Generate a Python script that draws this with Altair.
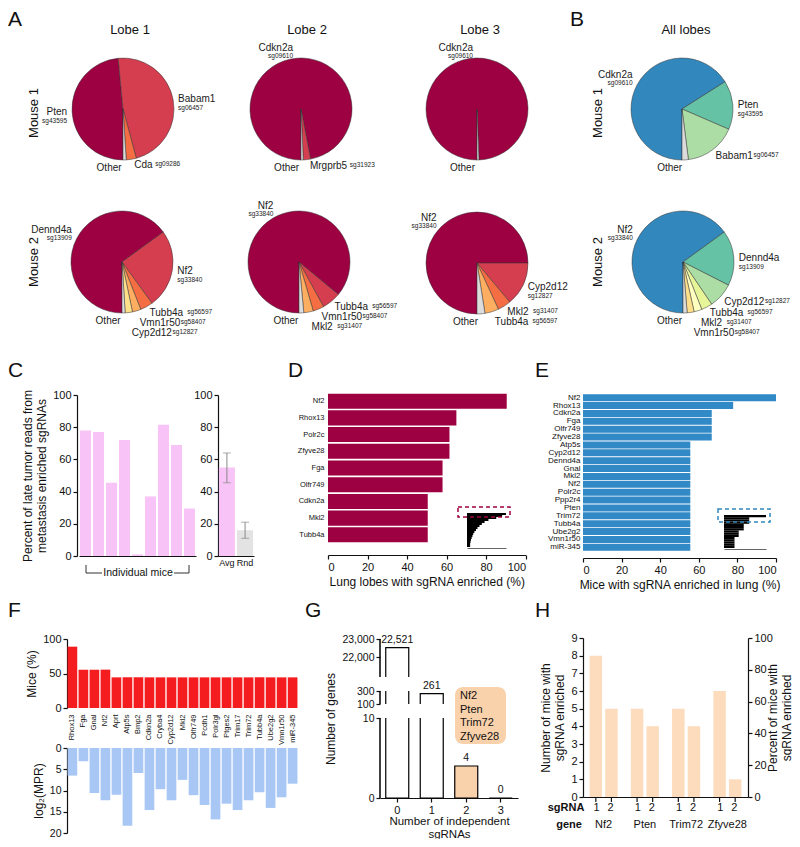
import math
import altair as alt
import pandas as pd

FONT = "Liberation Sans"
OX, OY = 8, 8
W, H = 784, 831


def X(v):
    return v - OX


def Y(v):
    return v - OY


# ======================= DATA =======================
# Panel A (per lobe) / B (all lobes): gene, sgRNA id, share of reads (%)
a_m1_l1_gene = ["Pten", "Babam1", "Cda", "Other"]
a_m1_l1_sg = ["sg43595", "sg06457", "sg09286", ""]
a_m1_l1_pct = [48.5, 47.3, 3.2, 1.0]

a_m1_l2_gene = ["Cdkn2a", "Mrgprb5", "Other"]
a_m1_l2_sg = ["sg09610", "sg31923", ""]
a_m1_l2_pct = [97.0, 2.3, 0.7]

a_m1_l3_gene = ["Cdkn2a", "Other"]
a_m1_l3_sg = ["sg09610", ""]
a_m1_l3_pct = [99.4, 0.6]

a_m2_l1_gene = ["Dennd4a", "Nf2", "Tubb4a", "Vmn1r50", "Cyp2d12", "Other"]
a_m2_l1_sg = ["sg13909", "sg33840", "sg56597", "sg58407", "sg12827", ""]
a_m2_l1_pct = [65.0, 25.0, 4.0, 2.7, 2.3, 1.0]

a_m2_l2_gene = ["Nf2", "Tubb4a", "Vmn1r50", "Mkl2", "Other"]
a_m2_l2_sg = ["sg33840", "sg56597", "sg58407", "sg31407", ""]
a_m2_l2_pct = [86.0, 6.0, 3.5, 3.0, 1.5]

a_m2_l3_gene = ["Nf2", "Cyp2d12", "Mkl2", "Tubb4a", "Other"]
a_m2_l3_sg = ["sg33840", "sg12827", "sg31407", "sg56597", ""]
a_m2_l3_pct = [75.0, 13.9, 4.2, 4.4, 2.5]

b_m1_gene = ["Cdkn2a", "Pten", "Babam1", "Other"]
b_m1_sg = ["sg09610", "sg43595", "sg06457", ""]
b_m1_pct = [66.0, 15.5, 16.5, 2.0]

b_m2_gene = ["Nf2", "Dennd4a", "Cyp2d12", "Tubb4a", "Mkl2", "Vmn1r50", "Other"]
b_m2_sg = ["sg33840", "sg13909", "sg12827", "sg56597", "sg31407", "sg58407", ""]
b_m2_pct = [65.0, 17.5, 8.0, 3.5, 2.5, 2.2, 1.3]

lobe_titles = ["Lobe 1", "Lobe 2", "Lobe 3", "All lobes"]
mouse_titles = ["Mouse 1", "Mouse 2"]

# Panel C
c_mouse = ["1", "2", "3", "4", "5", "6", "7", "8", "9"]
c_pct = [78, 77, 45.5, 72, 1, 37, 81.5, 69, 29.5]
c_ytitle = ["Percent of late tumor reads from", "metastasis enriched sgRNAs"]
c2_group = ["Avg", "Rnd"]
c2_mean = [55, 16]
c2_lo = [45.5, 11]
c2_hi = [64, 21]

# Panel D
d_genes = ["Nf2", "Rhox13", "Polr2c", "Zfyve28", "Fga", "Olfr749", "Cdkn2a", "Mkl2", "Tubb4a"]
d_pct = [90.5, 65, 61.5, 61.5, 58, 58, 50.5, 50.5, 50.5]
d_xtitle = "Lung lobes with sgRNA enriched (%)"
d_inset = [1.0, 0.9, 0.75, 0.55, 0.45, 0.38, 0.32, 0.27, 0.23, 0.19, 0.16, 0.14, 0.12, 0.1, 0.09, 0.08, 0.08]

# Panel E
e_genes = ["Nf2", "Rhox13", "Cdkn2a", "Fga", "Olfr749", "Zfyve28", "Atp5s", "Cyp2d12", "Dennd4a",
           "Gnal", "Mkl2", "Nf2", "Polr2c", "Ppp2r4", "Pten", "Trim72", "Tubb4a", "Ube2g2",
           "Vmn1r50", "miR-345"]
e_pct = [100, 77.8, 66.7, 66.7, 66.7, 66.7, 55.6, 55.6, 55.6, 55.6, 55.6, 55.6, 55.6, 55.6,
         55.6, 55.6, 55.6, 55.6, 55.6, 55.6]
e_xtitle = "Mice with sgRNA enriched in lung (%)"
e_inset = [1.0, 0.6, 0.6, 0.6, 0.47, 0.47, 0.47, 0.35, 0.35, 0.35, 0.25, 0.25, 0.25, 0.25, 0.25]

# Panel F
f_genes = ["Rhox13", "Fga", "Gnal", "Nf2", "Aprt", "Atp5s", "Bmp2", "Cdkn2a", "Cryba4", "Cyp2d12",
           "Mkl2", "Olfr749", "Pcdh1", "Polr3gl", "Ptges2", "Trim17", "Trim72", "Tubb4a", "Ube2g2",
           "Vmn1r50", "miR-345"]
f_mice = [88.9, 55.6, 55.6, 55.6, 44.4, 44.4, 44.4, 44.4, 44.4, 44.4, 44.4, 44.4, 44.4, 44.4,
          44.4, 44.4, 44.4, 44.4, 44.4, 44.4, 44.4]
f_mpr = [6.5, 3.1, 10.6, 12.3, 11.0, 18.3, 5.9, 14.6, 9.7, 12.3, 7.5, 11.1, 13.4, 16.8, 13.1,
         14.6, 12.3, 10.4, 14.1, 11.6, 8.4]

# Panel G
g_cat = ["0", "1", "2", "3"]
g_genes = [22521, 261, 4, 0]
g_box_genes = ["Nf2", "Pten", "Trim72", "Zfyve28"]
g_axis_lo = [0, 100, 20900]
g_axis_hi = [10, 300, 23000]

# Panel H
h_genes = ["Nf2", "Pten", "Trim72", "Zfyve28"]
h_sg = ["1", "2"]
h_count = [8, 5, 5, 4, 5, 4, 6, 1]
h_total_mice = 9

# ======================= STYLE =======================
RED_PAL = ["#9E0142", "#D53E4F", "#F46D43", "#FDAE61", "#FEE08B"]
BLUE_PAL = ["#3288BD", "#66C2A5", "#ABDDA4", "#E6F598", "#FFFFBF", "#FEE08B"]
OTHER_COL = "#DCDCDC"
PINK = "#F8C3F6"
GRAYBAR = "#E3E3E3"
CRIMSON = "#9E0142"
BLUE_E = "#3189C5"
RED_F = "#F41C1E"
LBLUE_F = "#A8C7F4"
PEACH = "#FCDCBC"
PEACH_BOX = "#F9D2AC"
INK = "#111111"


def axis(**kw):
    base = dict(labelFont=FONT, titleFont=FONT, labelColor=INK, titleColor=INK,
                domainColor=INK, tickColor=INK, grid=False, titleFontWeight="normal",
                labelFontSize=10.5, titleFontSize=12, tickSize=4, domainWidth=1.2,
                tickWidth=1.2, labelPadding=2, titlePadding=4)
    base.update(kw)
    return alt.Axis(**base)


ONE = pd.DataFrame({"k": [0]})


def txt(s, x, y, size=12, weight="normal", align="left", baseline="middle", angle=0):
    return alt.Chart(pd.DataFrame({"t": [s]})).mark_text(
        font=FONT, fontSize=size, fontWeight=weight, align=align, baseline=baseline,
        angle=angle, color=INK).encode(text="t:N", x=alt.value(X(x)), y=alt.value(Y(y)))


def tw(s, fs):
    w = 0.0
    for ch in s:
        if ch in "iljtfrI1|.,:;!' ":
            w += 0.3
        elif ch in "mwMW":
            w += 0.85
        elif ch.isupper():
            w += 0.67
        else:
            w += 0.56
    return w * fs


THETA = alt.Scale(domain=[0, 100], range=[math.pi, 3 * math.pi])


def pie(genes, sgs, pcts, palette, cx, cy):
    R = 51
    cols, k = [], 0
    for g in genes:
        if g == "Other":
            cols.append(OTHER_COL)
        else:
            cols.append(palette[k])
            k += 1
    df = pd.DataFrame({"gene": genes, "pct": pcts, "idx": list(range(len(genes))), "col": cols})
    layers = [alt.Chart(df).mark_arc(outerRadius=R, stroke="#333333", strokeWidth=0.5).encode(
        theta=alt.Theta("pct:Q", stack=True, scale=THETA),
        order=alt.Order("idx:Q"),
        color=alt.Color("col:N", scale=None),
        x=alt.value(X(cx)), y=alt.value(Y(cy)))]

    def lab(t, m, fs, dx, dy, align):
        d = pd.DataFrame({"t": [t], "m": [m]})
        return alt.Chart(d).mark_text(
            radius=R, dx=dx, dy=dy, align=align, baseline="middle", fontSize=fs,
            font=FONT, color="#1a1a1a").encode(
            theta=alt.Theta("m:Q", stack=False, scale=THETA), text=alt.Text("t:N"),
            x=alt.value(X(cx)), y=alt.value(Y(cy)))

    cum = 0.0
    stair = []
    for g, s, p in zip(genes, sgs, pcts):
        m = cum + p / 2
        cum += p
        a = (180 + m * 3.6) % 360
        sa, ca = math.sin(math.radians(a)), math.cos(math.radians(a))
        ex, ey = R * sa, -R * ca
        if g == "Other":
            layers.append(lab(g, m, 10, -3, 8, "right"))
        elif 120 <= a < 176:
            stair.append((a, g, s, m, ex, ey))
        else:
            al = "left" if sa >= 0 else "right"
            side = 1 if sa >= 0 else -1
            if ca > 0.4:
                bx, by = 2 * sa + 3 * side, -2 * ca
                layers.append(lab(g, m, 10, bx, by - 8, al))
                layers.append(lab(s, m, 6.5, bx, by, al))
            else:
                bx, by = 5 * sa, -5 * ca
                layers.append(lab(g, m, 10, bx, by, al))
                layers.append(lab(s, m, 6.5, bx, by + 9, al))
    prev = None
    for a, g, s, m, ex, ey in sorted(stair):
        ty = ey + 6 if prev is None else max(ey + 6, prev + 10)
        prev = ty
        layers.append(lab(g, m, 10, 3, ty - ey, "left"))
        if s:
            layers.append(lab(s, m, 6.5, 3 + tw(g, 10) + 3, ty - ey - 1, "left"))
    return alt.layer(*layers)


layers = []

# ----- panel letters -----
for letter, lx, ly in [("A", 8, 26), ("B", 570, 26), ("C", 8, 377), ("D", 288, 377),
                       ("E", 535, 377), ("F", 8, 617), ("G", 305, 617), ("H", 535, 617)]:
    layers.append(txt(letter, lx, ly, size=21, baseline="alphabetic"))

# ----- panel A/B titles -----
for t, tx in zip(lobe_titles, [130, 307, 480, 686]):
    layers.append(txt(t, tx, 30, size=13, align="center"))
for t, ty in zip(mouse_titles, [113, 262]):
    layers.append(txt(t, 34, ty, size=13, align="center", angle=270))
    layers.append(txt(t, 598, ty, size=13, align="center", angle=270))

# ----- pies -----
layers.append(pie(a_m1_l1_gene, a_m1_l1_sg, a_m1_l1_pct, RED_PAL, 123, 109))
layers.append(pie(a_m1_l2_gene, a_m1_l2_sg, a_m1_l2_pct, RED_PAL, 301, 109))
layers.append(pie(a_m1_l3_gene, a_m1_l3_sg, a_m1_l3_pct, RED_PAL, 477, 109))
layers.append(pie(b_m1_gene, b_m1_sg, b_m1_pct, BLUE_PAL, 682, 109))
layers.append(pie(a_m2_l1_gene, a_m2_l1_sg, a_m2_l1_pct, RED_PAL, 122, 262))
layers.append(pie(a_m2_l2_gene, a_m2_l2_sg, a_m2_l2_pct, RED_PAL, 299, 262))
layers.append(pie(a_m2_l3_gene, a_m2_l3_sg, a_m2_l3_pct, RED_PAL, 477, 263))
layers.append(pie(b_m2_gene, b_m2_sg, b_m2_pct, BLUE_PAL, 683, 262))

# ----- panel C (left) -----
dfC = pd.DataFrame({"m": c_mouse, "v": c_pct})
layers.append(alt.Chart(dfC).mark_bar(color=PINK).encode(
    x=alt.X("m:N", sort=c_mouse,
            scale=alt.Scale(domain=c_mouse, range=[X(79), X(196)], paddingInner=0.15, paddingOuter=0.08),
            axis=axis(orient="bottom", offset=Y(556) - H, labels=False, ticks=False, title=None)),
    y=alt.Y("v:Q", scale=alt.Scale(domain=[0, 100], range=[Y(556), Y(395)]),
            axis=axis(orient="left", offset=-X(77), values=[0, 20, 40, 60, 80, 100],
                      title=c_ytitle, labelFontSize=11))))
# bracket "Individual mice"
for (x1, x2, y1, y2) in [(86, 86, 565, 573), (189, 189, 565, 573), (86, 102, 573, 573), (174, 189, 573, 573)]:
    layers.append(alt.Chart(ONE).mark_rule(color="#333333", strokeWidth=1).encode(
        x=alt.value(X(x1)), x2=alt.value(X(x2)), y=alt.value(Y(y1)), y2=alt.value(Y(y2))))
layers.append(txt("Individual mice", 138, 573, size=10.5, align="center"))

# ----- panel C (right) -----
dfC2 = pd.DataFrame({"g": c2_group, "v": c2_mean, "lo": c2_lo, "hi": c2_hi, "col": [PINK, GRAYBAR]})


def xC2(ax=None):
    return alt.X("g:N", sort=c2_group,
                 scale=alt.Scale(domain=c2_group, range=[X(218), X(254)], paddingInner=0.12, paddingOuter=0.05),
                 axis=ax)


def yC2(field, ax=None):
    return alt.Y(field, scale=alt.Scale(domain=[0, 100], range=[Y(556), Y(395)]), axis=ax)


layers.append(alt.Chart(dfC2).mark_bar().encode(
    x=xC2(axis(orient="bottom", offset=Y(556) - H, ticks=False, title=None, labelAngle=0, labelFontSize=9)),
    y=yC2("v:Q", axis(orient="left", offset=-X(218), values=[0, 20, 40, 60, 80, 100], title=None,
                       labelFontSize=11)),
    color=alt.Color("col:N", scale=None)))
layers.append(alt.Chart(dfC2).mark_rule(color="#8a8a8a", strokeWidth=1).encode(
    x=xC2(), y=yC2("lo:Q"), y2="hi:Q"))
layers.append(alt.Chart(dfC2).mark_tick(color="#8a8a8a", size=8, thickness=1).encode(x=xC2(), y=yC2("lo:Q")))
layers.append(alt.Chart(dfC2).mark_tick(color="#8a8a8a", size=8, thickness=1).encode(x=xC2(), y=yC2("hi:Q")))

# ----- panel D -----
dfD = pd.DataFrame({"g": d_genes, "v": d_pct})
layers.append(alt.Chart(dfD).mark_bar(color=CRIMSON).encode(
    y=alt.Y("g:N", sort=d_genes,
            scale=alt.Scale(range=[Y(393), Y(543)], paddingInner=0.1, paddingOuter=0.04),
            axis=axis(orient="left", offset=-X(328), domain=False, ticks=False,
                      labelFontSize=7.5, labelPadding=4, title=None)),
    x=alt.X("v:Q", scale=alt.Scale(domain=[0, 100], range=[X(328), X(525.5)]),
            axis=axis(orient="bottom", offset=Y(555) - H, values=[0, 20, 40, 60, 80, 100],
                      title=d_xtitle, labelFontSize=11))))
dfDi = pd.DataFrame({"r": list(range(len(d_inset))), "w": d_inset})
layers.append(alt.Chart(dfDi).mark_bar(color="black").encode(
    y=alt.Y("r:O", scale=alt.Scale(range=[Y(513), Y(547)], paddingInner=0, paddingOuter=0), axis=None),
    x=alt.X("w:Q", scale=alt.Scale(domain=[0, 1], range=[X(467), X(506)]),
            axis=axis(orient="bottom", offset=Y(548) - H, labels=False, ticks=False, title=None,
                      domainColor="#666666", domainWidth=1))))
layers.append(alt.Chart(ONE).mark_rect(fillOpacity=0, stroke=CRIMSON, strokeDash=[4, 3], strokeWidth=1.5).encode(
    x=alt.value(X(458)), x2=alt.value(X(510)), y=alt.value(Y(507)), y2=alt.value(Y(517))))

# ----- panel E -----
e_idx = list(range(len(e_genes)))
e_expr = "[" + ",".join("'" + g + "'" for g in e_genes) + "][datum.value]"
dfE = pd.DataFrame({"i": e_idx, "v": e_pct})
layers.append(alt.Chart(dfE).mark_bar(color=BLUE_E).encode(
    y=alt.Y("i:O", sort=e_idx,
            scale=alt.Scale(range=[Y(394), Y(551)], paddingInner=0.12, paddingOuter=0.03),
            axis=axis(orient="left", offset=-X(583), domain=False, ticks=False,
                      labelFontSize=8, labelPadding=3, title=None, labelExpr=e_expr)),
    x=alt.X("v:Q", scale=alt.Scale(domain=[0, 100], range=[X(583), X(776)]),
            axis=axis(orient="bottom", offset=Y(558) - H, values=[0, 20, 40, 60, 80, 100],
                      title=e_xtitle, labelFontSize=11))))
dfEi = pd.DataFrame({"r": list(range(len(e_inset))), "w": e_inset})
layers.append(alt.Chart(dfEi).mark_bar(color="black").encode(
    y=alt.Y("r:O", scale=alt.Scale(range=[Y(515), Y(548)], paddingInner=0, paddingOuter=0), axis=None),
    x=alt.X("w:Q", scale=alt.Scale(domain=[0, 1], range=[X(724), X(766)]),
            axis=axis(orient="bottom", offset=Y(549) - H, labels=False, ticks=False, title=None,
                      domainColor="#666666", domainWidth=1))))
layers.append(alt.Chart(ONE).mark_rect(fillOpacity=0, stroke="#3288BD", strokeDash=[4, 3], strokeWidth=1.5).encode(
    x=alt.value(X(718)), x2=alt.value(X(770)), y=alt.value(Y(509)), y2=alt.value(Y(522))))

# ----- panel F -----
dfF = pd.DataFrame({"g": f_genes, "mice": f_mice, "mpr": f_mpr})


def xF(ax=None):
    return alt.X("g:N", sort=f_genes,
                 scale=alt.Scale(domain=f_genes, range=[X(67), X(298)], paddingInner=0.12, paddingOuter=0.05),
                 axis=ax)


layers.append(alt.Chart(dfF).mark_bar(color=RED_F).encode(
    x=xF(axis(orient="bottom", offset=Y(712) - H, domain=False, ticks=False, labelAngle=270,
              labelFontSize=7.5, title=None)),
    y=alt.Y("mice:Q", scale=alt.Scale(domain=[0, 100], range=[Y(708), Y(639)]),
            axis=axis(orient="left", offset=-X(67), values=[0, 50, 100], title="Mice (%)",
                      labelFontSize=11))))
layers.append(alt.Chart(dfF).mark_bar(color=LBLUE_F).encode(
    x=xF(),
    y=alt.Y("mpr:Q", scale=alt.Scale(domain=[0, 20], range=[Y(748), Y(833)]),
            axis=axis(orient="left", offset=-X(67), values=[0, 5, 10, 15, 20], title="log₂(MPR)",
                      labelFontSize=10.5))))

# ----- panel G -----
g_lab = ["{:,}".format(v) for v in g_genes]
g_fill = ["#FFFFFF", "#FFFFFF", PEACH_BOX, "#FFFFFF"]
dfG = pd.DataFrame({"c": g_cat, "v": g_genes, "lab": g_lab, "col": g_fill})


def xG(ax=None):
    return alt.X("c:N", sort=g_cat,
                 scale=alt.Scale(domain=g_cat, range=[X(380), X(518)], paddingInner=0.32, paddingOuter=0.16),
                 axis=ax)


def yG(field, ax=None):
    return alt.Y(field, scale=alt.Scale(domain=[0, 10, 100, 300, 20900, 23000],
                                        range=[Y(798), Y(718), Y(704), Y(691), Y(677), Y(639)],
                                        zero=False, nice=False), axis=ax)


layers.append(alt.Chart(dfG).mark_bar(size=23, stroke="black", strokeWidth=1.2).encode(
    x=xG(axis(orient="bottom", offset=Y(798) - H, labelAngle=0, labelFontSize=11,
              title=["Number of independent", "sgRNAs"], titlePadding=0, titleLineHeight=13,
              titleFontSize=11.5)),
    y=yG("v:Q", axis(orient="left", offset=-X(380), domain=False, values=[0, 10, 100, 300, 22000, 23000],
                     format=",.0f", title="Number of genes", labelFontSize=10.5)),
    color=alt.Color("col:N", scale=None)))
gap_c, gap_lo, gap_hi = [], [], []
for c, v in zip(g_cat, g_genes):
    for lo, hi in [(10, 100), (300, 20900)]:
        if v > hi:
            gap_c.append(c)
            gap_lo.append(lo)
            gap_hi.append(hi)
dfGap = pd.DataFrame({"c": gap_c, "lo": gap_lo, "hi": gap_hi})
layers.append(alt.Chart(dfGap).mark_bar(size=27, color="white").encode(
    x=xG(), y=yG("lo:Q"), y2="hi:Q"))
dfGax = pd.DataFrame({"lo": g_axis_lo, "hi": g_axis_hi})
layers.append(alt.Chart(dfGax).mark_rule(color="black", strokeWidth=1.5).encode(
    x=alt.value(X(380)), y=yG("lo:Q"), y2="hi:Q"))
layers.append(alt.Chart(dfG).mark_text(dy=-8, fontSize=10.5, font=FONT, color=INK).encode(
    x=xG(), y=yG("v:Q"), text="lab:N"))
layers.append(alt.Chart(ONE).mark_rect(cornerRadius=8, color=PEACH_BOX).encode(
    x=alt.value(X(455)), x2=alt.value(X(506)), y=alt.value(Y(687)), y2=alt.value(Y(744))))
layers.append(alt.Chart(ONE).mark_text(font=FONT, fontSize=11, align="left", baseline="top",
                                       lineHeight=13.5, color=INK).encode(
    text=alt.value(g_box_genes), x=alt.value(X(460)), y=alt.value(Y(690))))

# ----- panel H -----
dfH = pd.DataFrame({"gene": [g for g in h_genes for _ in h_sg],
                    "sg": [s for _ in h_genes for s in h_sg],
                    "n": h_count})
dfH["pct"] = dfH["n"] / h_total_mice * 100


def xH(ax=None):
    return alt.X("gene:N", sort=h_genes,
                 scale=alt.Scale(domain=h_genes, range=[X(583), X(748)], paddingInner=0.32, paddingOuter=0.16),
                 axis=ax)


def xoH():
    return alt.XOffset("sg:N", sort=h_sg, scale=alt.Scale(domain=h_sg, paddingInner=0.2))


layers.append(alt.Chart(dfH).mark_bar(color=PEACH).encode(
    x=xH(axis(orient="bottom", offset=Y(797) - H, ticks=False, labelAngle=0,
              labelPadding=21, labelFontSize=11, title=None)),
    xOffset=xoH(),
    y=alt.Y("n:Q", scale=alt.Scale(domain=[0, 9], range=[Y(797), Y(638)]),
            axis=axis(orient="left", offset=-X(583), values=list(range(10)),
                      title=["Number of mice with", "sgRNA enriched"], labelFontSize=11))))
layers.append(alt.Chart(dfH).mark_bar(opacity=0).encode(
    x=xH(), xOffset=xoH(),
    y=alt.Y("pct:Q", scale=alt.Scale(domain=[0, 100], range=[Y(797), Y(638)]),
            axis=axis(orient="right", offset=X(748) - W, values=[0, 20, 40, 60, 80, 100],
                      title=["Percent of mice with", "sgRNA enriched"], titleAngle=270,
                      titleBaseline="top", titleAlign="center", titleFontSize=12,
                      titleLineHeight=14, titleX=19, titleY=(Y(797) + Y(638)) / 2,
                      labelFontSize=11))))
layers.append(alt.Chart(dfH).mark_text(font=FONT, fontSize=11, color=INK, baseline="middle").encode(
    x=xH(), xOffset=xoH(), y=alt.value(Y(808)), text="sg:N"))
layers.append(alt.Chart(dfH).mark_rule(color=INK, strokeWidth=1.2).encode(
    x=xH(), xOffset=xoH(), y=alt.value(Y(797)), y2=alt.value(Y(802))))
layers.append(txt("sgRNA", 566, 808, size=11, weight="bold", align="center"))
layers.append(txt("gene", 569, 825, size=11, weight="bold", align="center"))

chart = alt.layer(*layers).resolve_scale(
    x="independent", y="independent", xOffset="independent"
).properties(
    width=W, height=H, autosize=alt.AutoSizeParams(type="none"), padding=0
).configure_view(stroke=None)

chart.save("out.html", embed_options={"renderer": "svg", "actions": False})
